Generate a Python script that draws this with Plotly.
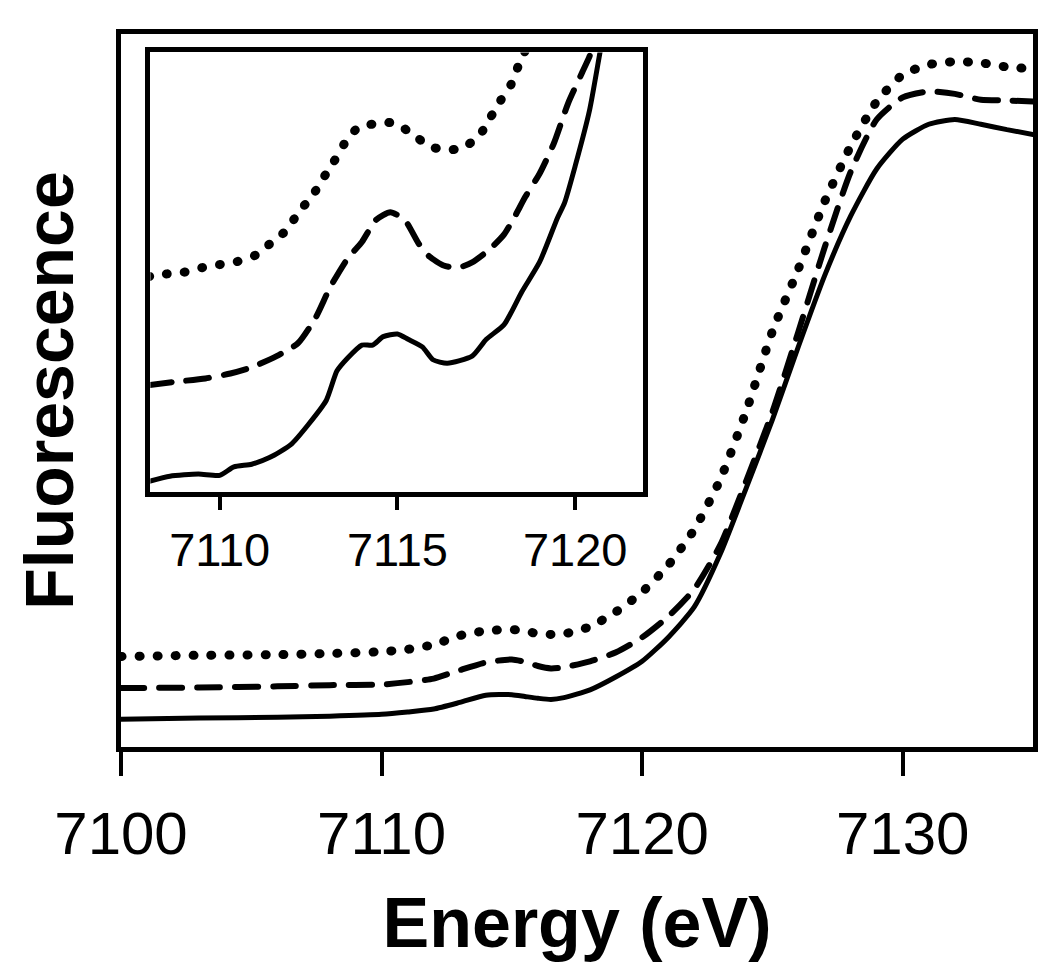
import plotly.graph_objects as go

# ---------------- main panel data ----------------
main_energy = [7100, 7103, 7106, 7108, 7110, 7111, 7112, 7113, 7114, 7115, 7115.5, 7116, 7116.5,
               7117, 7118, 7119, 7120, 7121, 7122, 7123, 7124, 7125, 7126, 7127, 7128, 7129, 7130,
               7131, 7132, 7133, 7134, 7135]
main_solid = [0.050, 0.052, 0.053, 0.055, 0.058, 0.062, 0.067, 0.078, 0.090, 0.091, 0.088, 0.085, 0.083,
              0.086, 0.099, 0.121, 0.147, 0.187, 0.238, 0.327, 0.438, 0.552, 0.675, 0.793, 0.893, 0.972, 1.022,
              1.047, 1.055, 1.047, 1.038, 1.030]
main_dashed = [0.102, 0.103, 0.105, 0.107, 0.108, 0.112, 0.118, 0.132, 0.145, 0.150, 0.146, 0.139, 0.135,
               0.137, 0.147, 0.162, 0.187, 0.222, 0.268, 0.342, 0.450, 0.565, 0.700, 0.840, 0.967, 1.055, 1.092,
               1.102, 1.098, 1.088, 1.087, 1.085]
main_dotted = [0.155, 0.157, 0.158, 0.160, 0.163, 0.167, 0.175, 0.190, 0.198, 0.200, 0.198, 0.193, 0.192,
               0.193, 0.205, 0.230, 0.263, 0.308, 0.368, 0.452, 0.567, 0.700, 0.805, 0.917, 1.010, 1.085, 1.130,
               1.147, 1.152, 1.150, 1.143, 1.140]
main_ticks = [7100, 7110, 7120, 7130]
main_ticklabels = ["7100", "7110", "7120", "7130"]

# ---------------- inset data ----------------
inset_solid_energy = [7108.0, 7108.6, 7109.4, 7110.0, 7110.4, 7110.9, 7111.4, 7112.0, 7112.5, 7113.0, 7113.3,
                      7113.6, 7114.0, 7114.3, 7114.6, 7115.0, 7115.3, 7115.7, 7116.0, 7116.4, 7117.1, 7117.5,
                      7118.0, 7118.5, 7119.0, 7119.5, 7119.7, 7120.0, 7120.4, 7120.7, 7121.0]
inset_solid = [0.029, 0.041, 0.046, 0.043, 0.062, 0.068, 0.083, 0.112, 0.158, 0.212, 0.278,
               0.307, 0.336, 0.336, 0.355, 0.361, 0.349, 0.332, 0.303, 0.295, 0.311, 0.349,
               0.382, 0.456, 0.523, 0.622, 0.656, 0.739, 0.863, 0.996, 1.130]
inset_dashed_energy = [7108.0, 7108.7, 7109.6, 7110.3, 7110.9, 7111.6, 7112.2, 7112.7, 7113.1, 7113.6, 7114.0,
                       7114.4, 7114.8, 7115.2, 7115.6, 7115.9, 7116.3, 7116.7, 7117.1, 7117.6, 7118.0, 7118.3,
                       7118.6, 7119.0, 7119.4, 7119.8, 7120.2, 7120.4, 7120.7]
inset_dashed = [0.246, 0.253, 0.261, 0.272, 0.286, 0.311, 0.340, 0.398, 0.465, 0.531, 0.568,
                0.618, 0.635, 0.618, 0.564, 0.535, 0.515, 0.510, 0.522, 0.552, 0.585, 0.625,
                0.670, 0.722, 0.790, 0.880, 0.950, 0.985, 1.050]
inset_dotted_energy = [7108.0, 7108.5, 7109.0, 7109.5, 7110.0, 7110.5, 7111.0, 7111.4, 7111.9, 7112.2, 7112.6,
                       7112.9, 7113.2, 7113.5, 7113.9, 7114.4, 7114.9, 7115.4, 7115.9, 7116.3, 7116.8, 7117.3,
                       7117.6, 7117.9, 7118.2, 7118.4, 7118.6, 7119.0]
inset_dotted = [0.490, 0.496, 0.500, 0.510, 0.517, 0.524, 0.538, 0.563, 0.596, 0.633, 0.671,
                0.710, 0.747, 0.788, 0.826, 0.834, 0.836, 0.812, 0.783, 0.776, 0.778, 0.807,
                0.846, 0.886, 0.923, 0.964, 1.000, 1.120]
inset_ticks = [7110, 7115, 7120]
inset_ticklabels = ["7110", "7115", "7120"]

FONT = "Arial, Liberation Sans, sans-serif"
DOT = "1px,17px"
DASH = "23px,15px"

fig = go.Figure()

def add(x, y, dash, width, xa, ya):
    fig.add_trace(go.Scatter(x=x, y=y, mode="lines", xaxis=xa, yaxis=ya,
                             line=dict(color="black", width=width, dash=dash,
                                       shape="spline", smoothing=0.6),
                             showlegend=False, hoverinfo="skip"))

add(main_energy, main_solid, "solid", 5, "x", "y")
add(main_energy, main_dashed, DASH, 6, "x", "y")
add(main_energy, main_dotted, DOT, 9, "x", "y")

add(inset_solid_energy, inset_solid, "solid", 5, "x2", "y2")
add(inset_dashed_energy, inset_dashed, DASH, 6, "x2", "y2")
add(inset_dotted_energy, inset_dotted, DOT, 9, "x2", "y2")

fig.update_layout(
    width=1050, height=962,
    margin=dict(l=121, r=14, t=34, b=211),
    paper_bgcolor="white", plot_bgcolor="white",
    font=dict(family=FONT, color="black"),
    xaxis=dict(domain=[0, 1], range=[7100, 7135], showline=True, linewidth=5, linecolor="black",
               mirror=True, ticks="outside", ticklen=24, tickwidth=4, tickcolor="black",
               tickvals=main_ticks, ticktext=main_ticklabels, ticklabelstandoff=6,
               tickfont=dict(size=60, family=FONT, color="black"),
               showgrid=False, zeroline=False,
               title=dict(text="Energy (eV)", font=dict(size=70, family=FONT, weight="bold"), standoff=34)),
    yaxis=dict(domain=[0, 1], range=[0.0033, 1.1983], showline=True, linewidth=5, linecolor="black",
               mirror=True, ticks="", showticklabels=False, showgrid=False, zeroline=False,
               title=dict(text="Fluorescence", font=dict(size=68, family=FONT, weight="bold"), standoff=22)),
    xaxis2=dict(domain=[0.0322, 0.5721], anchor="y2", range=[7108.05, 7121.9], showline=True,
                linewidth=4.5, linecolor="black", mirror=True, ticks="outside", ticklen=13, tickwidth=4,
                tickcolor="black", tickvals=inset_ticks, ticktext=inset_ticklabels,
                tickfont=dict(size=47, family=FONT, color="black"),
                showgrid=False, zeroline=False),
    yaxis2=dict(domain=[0.3577, 0.9742], anchor="x2", range=[0.0056, 0.9944], showline=True,
                linewidth=4.5, linecolor="black", mirror=True, ticks="", showticklabels=False,
                showgrid=False, zeroline=False),
)

post = ("document.body.style.margin='0';document.body.style.padding='0';"
        "document.querySelectorAll('.scatterlayer path.js-line').forEach(function(p){"
        "p.style.strokeLinecap='round';p.style.strokeLinejoin='round';});")
fig.write_html("out.html", post_script=post, config={"displayModeBar": False})
